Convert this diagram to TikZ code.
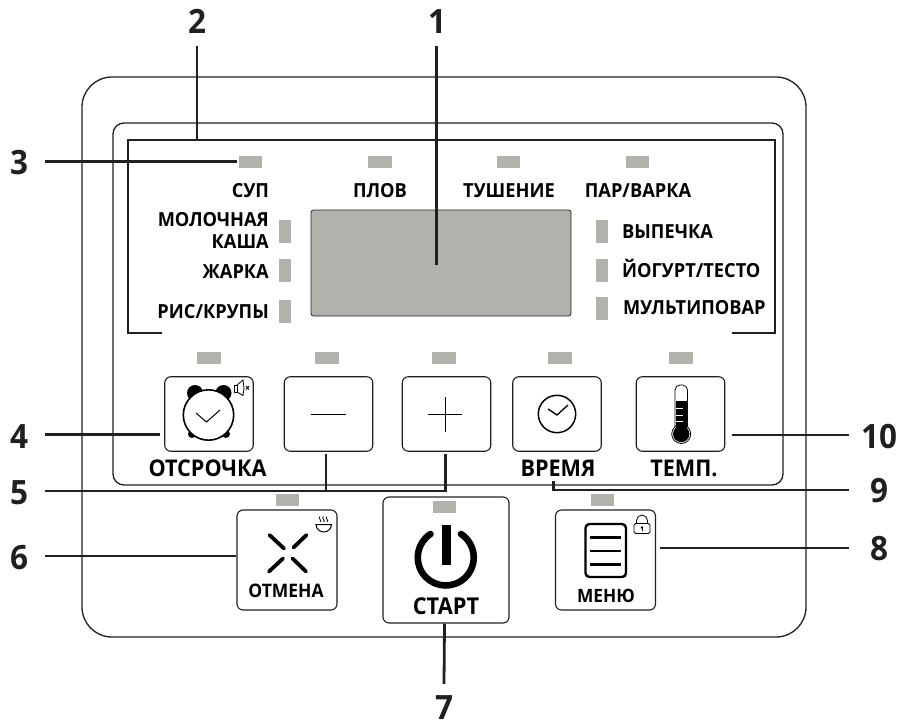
\documentclass[tikz,border=0pt]{standalone}
\usepackage{fontspec}
\setmainfont{Open Sans}[FakeStretch=0.94]
\usetikzlibrary{calc}
\definecolor{ink}{HTML}{231F20}
\definecolor{lcd}{HTML}{B1B2AC}
\newcommand{\fsz}[1]{\fontsize{#1}{#1}\selectfont\bfseries}
\tikzset{
  panel/.style={draw=ink,line width=1.3pt,fill=none},
  leader/.style={draw=ink,line width=2.8pt,line cap=butt,line join=miter},
  ledh/.style={fill=lcd,inner sep=0pt,minimum width=23.5pt,minimum height=12pt,draw=none},
  ledv/.style={fill=lcd,inner sep=0pt,minimum width=12pt,minimum height=23.5pt,draw=none},
  btn/.style={draw=ink,line width=1.1pt,rounded corners=6pt,inner sep=0pt,fill=white},
  btnsmall/.style={btn,minimum width=88.5pt,minimum height=74.5pt},
  btnbig/.style={btn,minimum width=100pt,minimum height=100pt},
  lbl/.style={inner sep=0pt,text=black,font=\fsz{19.4},text height=13.9pt,text depth=0pt},
  btnlbl/.style={lbl,font=\fsz{23},text height=16.4pt},
  numlbl/.style={inner sep=0pt,text=ink,font=\fsz{33.5},text height=24pt,text depth=0pt},
  icon/.style={draw=black,line width=1.5pt},
  thin icon/.style={draw=black,line width=0.9pt},
}
\begin{document}
\begin{tikzpicture}[x=1pt,y=-1pt]
\useasboundingbox (0,0) rectangle (900,720);
% panels
\draw[panel,rounded corners=30pt] (82,77) rectangle (806,637);
\draw[panel,rounded corners=11pt] (113,123) rectangle (783,485);
% display
\node[fill=lcd,draw=ink,line width=0.8pt,rounded corners=2.5pt,minimum width=260pt,minimum height=106pt,inner sep=0pt] (display) at (441,263) {};
% top LEDs
\node[ledh] (ledA) at (250.5,162) {};
\node[ledh] (ledB) at (380,162) {};
\node[ledh] (ledC) at (508.5,162) {};
\node[ledh] (ledD) at (637.5,162) {};
% side LEDs
\node[ledv] (ledL1) at (285,231.5) {};
\node[ledv] (ledL2) at (285,270.5) {};
\node[ledv] (ledL3) at (285,311.5) {};
\node[ledv] (ledR1) at (602,231.5) {};
\node[ledv] (ledR2) at (602,270.5) {};
\node[ledv] (ledR3) at (602,308.5) {};
% row LEDs
\node[ledh] (ledE) at (209,358) {};
\node[ledh] (ledF) at (327,358) {};
\node[ledh] (ledG) at (444,358) {};
\node[ledh] (ledH) at (560,358) {};
\node[ledh] (ledI) at (681,358) {};
% labels
\node[lbl] (tSoup) at (250.5,191) {СУП};
\node[lbl] (tPlov) at (380,191) {ПЛОВ};
\node[lbl] (tTush) at (509,191) {ТУШЕНИЕ};
\node[lbl] (tPar) at (638,191) {ПАР/ВАРКА};
\node[lbl,anchor=east] (tMol) at (269,220) {МОЛОЧНАЯ};
\node[lbl,anchor=east] (tKasha) at (269,242) {КАША};
\node[lbl,anchor=east] (tZhar) at (269,272) {ЖАРКА};
\node[lbl,anchor=east] (tRis) at (269,312) {РИС/КРУПЫ};
\node[lbl,anchor=west] (tVyp) at (622,232) {ВЫПЕЧКА};
\node[lbl,anchor=west] (tYog) at (622,271) {ЙОГУРТ/ТЕСТО};
\node[lbl,anchor=west] (tMul) at (623,308) {МУЛЬТИПОВАР};
% small buttons
\node[btnsmall] (btnA) at (209,414) {};
\node[btnsmall] (btnB) at (328.5,414) {};
\node[btnsmall] (btnC) at (446.5,414) {};
\node[btnsmall] (btnD) at (557,414) {};
\node[btnsmall] (btnE) at (680.5,414) {};
\node[btnlbl] (tOts) at (207.5,468.5) {ОТСРОЧКА};
\node[btnlbl] (tVrem) at (558,468.5) {ВРЕМЯ};
\node[btnlbl] (tTemp) at (684,468.5) {ТЕМП.};
% lower buttons
\node[btnbig] (btnF) at (287,560) {};
\node[btn,minimum width=126pt,minimum height=126pt] (btnG) at (446,560) {};
\node[btnbig] (btnH) at (605.5,560) {};
\node[ledh] (ledJ) at (287.5,500) {};
\node[ledh] (ledK) at (444.5,507) {};
\node[ledh] (ledL) at (602.5,500) {};
\node[lbl,font=\fsz{18.6},text height=13.3pt] (tOtm) at (286,591) {ОТМЕНА};
\node[btnlbl,font=\fsz{23.2},text height=16.6pt] (tStart) at (446,606) {СТАРТ};
\node[lbl,font=\fsz{18.4},text height=13.2pt] (tMenu) at (606,596) {МЕНЮ};
% clock with alarm bells
\fill[black] (195,393) circle (8);
\fill[black] (223.5,393) circle (8);
\fill[black] (192,434) circle (4);
\fill[black] (226,434) circle (4);
\draw[icon,fill=white,line width=1.6pt] (208.5,415) circle (25.2);
\draw[thin icon,line width=1pt] (196,413) -- (206.5,422) -- (220,410);
% mute speaker
\draw[thin icon,line width=0.8pt,fill=white] (234,385) rectangle (237,392);
\draw[thin icon,line width=0.8pt] (237,385) -- (243,380) -- (244,388) -- (243,395.5) -- (237,392);
\draw[thin icon,line width=0.9pt] (246,386) -- (249,389.5) (249,386) -- (246,389.5);
% minus, plus
\draw[thin icon,line width=1pt] (311,414) -- (346,414);
\draw[thin icon,line width=1pt] (427.5,414) -- (462,414) (445,397) -- (445,431.5);
% clock
\draw[icon] (557,414) circle (18.7);
\draw[icon,line width=1.3pt] (548,409) -- (557,415) -- (568,405);
% thermometer
\draw[thin icon,line width=0.8pt,rounded corners=5pt,fill=white] (675,433) -- (675,385) -- (687.5,385) -- (687.5,433);
\draw[thin icon,line width=0.8pt,fill=white] (681.2,434) circle (9.5);
\fill[black] (681.2,434) circle (8.2);
\fill[black] (676,401) rectangle (686.5,432);
\draw[white,line width=0.7pt] (676,408) -- (683,408) (676,415) -- (683,415) (676,421) -- (683,421);
% cancel cross
\draw[icon,line width=3.8pt,line cap=round] (269.5,535) -- (284,548.5) (306.5,535) -- (293.5,547.5) (269,571.5) -- (283,558.5) (292.5,558.5) -- (306,571.5);
% steam bowl
\draw[thin icon,line width=1pt] (316,524.5) -- (331.5,524.5) arc[start angle=0,end angle=180,x radius=7.75,y radius=7.5] -- cycle;
\draw[thin icon,line width=0.7pt] (320,516.5) .. controls (317,518.5) and (323,520) .. (320,522) (323.5,516.5) .. controls (320.5,518.5) and (326.5,520) .. (323.5,522) (327,516.5) .. controls (324,518.5) and (330,520) .. (327,522);
% power symbol
\draw[black,line width=6.6pt,line cap=round] (430.5,534) arc[start angle=-123,end angle=-417,radius=28];
\fill[black] (441.5,524.5) rectangle (451,565);
% menu icon
\draw[black,line width=2.4pt,rounded corners=4pt] (585.5,524) rectangle (626,577);
\draw[black,line width=2.4pt] (590,537.5) -- (621,537.5) (590,551) -- (621,551) (590,564.5) -- (621,564.5);
% lock
\draw[thin icon,line width=0.8pt,rounded corners=1.5pt] (634,523.5) rectangle (650,533.5);
\draw[thin icon,line width=0.8pt] (636.5,523.5) -- (636.5,520.5) arc[start angle=180,end angle=360,radius=5.5] -- (647.5,523.5);
\fill[black] (642,527.5) circle (1.3);
\draw[black,line width=0.8pt] (642,527.5) -- (642,531);
% number labels
\node[numlbl] (n1) at (437,22) {1};
\node[numlbl] (n2) at (197,22) {2};
\node[numlbl] (n3) at (19,162) {3};
\node[numlbl] (n4) at (19,436) {4};
\node[numlbl] (n5) at (19,492) {5};
\node[numlbl] (n6) at (19,557) {6};
\node[numlbl] (n7) at (444,707) {7};
\node[numlbl] (n8) at (879,548) {8};
\node[numlbl] (n9) at (879,490) {9};
\node[numlbl] (n10) at (879,436) {10};
% leader anchors
\coordinate (brTL) at (128,140);
\coordinate (brTR) at (775,140);
\coordinate (brBL) at (162,333);
\coordinate (brBR) at (732,333);
\coordinate (oneEnd) at (436.5,265);
\coordinate (s3) at (45,161.5);
\coordinate (s4) at (45,434.5);
\coordinate (s5) at (45,491);
\coordinate (s6) at (45,556);
\coordinate (s8) at (849,548);
\coordinate (s9) at (849,490);
\coordinate (s10) at (849,435);
\coordinate (e5a) at (326,454);
\coordinate (e5b) at (445.5,454);
\coordinate (e9) at (553.5,481);
% leaders
\draw[leader] (brBL) -- (brBL -| brTL) -- (brTL) -- (brTR) -- (brTR |- brBR) -- (brBR);
\draw[leader] (n2.south |- 0,46) -- (n2.south |- brTL);
\draw[leader] (oneEnd |- 0,46) -- (oneEnd);
\draw[leader] (s3) -- ([xshift=-2pt]s3 -| ledA.west);
\draw[leader] (s4) -- ([xshift=-4pt]s4 -| btnA.west);
\draw[leader] (s5) -- (s5 -| e5b) -- (e5b);
\draw[leader] (e5a) -- (e5a |- s5);
\draw[leader] (s6) -- (s6 -| btnF.west);
\draw[leader] (btnG.south) ++(-1.5,0) -- ($(n7.north)+(0,-11)$);
\draw[leader] (s8) -- ([xshift=4pt]s8 -| btnH.east);
\draw[leader] (s9) -- (s9 -| e9) -- (e9);
\draw[leader] (s10) -- ([xshift=7pt]s10 -| btnE.east);
\end{tikzpicture}
\end{document}
